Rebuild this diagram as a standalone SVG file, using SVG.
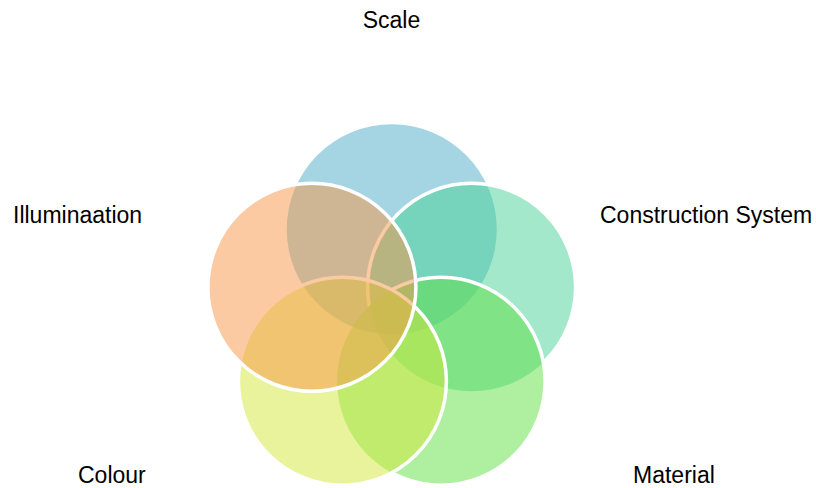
<svg xmlns="http://www.w3.org/2000/svg" width="816" height="488" viewBox="0 0 816 488">
<style>
.f{fill-opacity:0.5}
.s{fill:none;stroke:#fff;stroke-width:3.5}
.lbl{font-family:"Liberation Sans",Arial,sans-serif;font-size:23px;fill:#000}
</style>
<defs>
<mask id="noMat" maskUnits="userSpaceOnUse" x="0" y="0" width="816" height="488"><rect width="816" height="488" fill="#fff"/><circle cx="441.1" cy="381.3" r="104" fill="#000"/></mask>
<mask id="noCol" maskUnits="userSpaceOnUse" x="0" y="0" width="816" height="488"><rect width="816" height="488" fill="#fff"/><circle cx="342.4" cy="381.3" r="104" fill="#000"/></mask>
</defs>
<rect width="816" height="488" fill="#fff"/>
<g id="connectors"></g>
<g id="scale"><circle class="f" cx="391.75" cy="229.3" r="105" fill="#4BACC6"/><text class="lbl" x="391.5" y="28" text-anchor="middle">Scale</text></g>
<g id="construction-system"><circle class="f" cx="471.6" cy="287.3" r="104" fill="#47D195"/><circle class="s" cx="471.6" cy="287.3" r="104" mask="url(#noMat)"/><text class="lbl" x="600" y="223">Construction System</text></g>
<g id="material"><circle class="f" cx="441.1" cy="381.3" r="104" fill="#5DDF41"/><circle class="s" cx="441.1" cy="381.3" r="104" mask="url(#noCol)"/><text class="lbl" x="633" y="483">Material</text></g>
<g id="colour"><circle class="f" cx="342.4" cy="381.3" r="104" fill="#D1E739"/><circle class="s" cx="342.4" cy="381.3" r="104"/><text class="lbl" x="78" y="483">Colour</text></g>
<g id="illuminaation"><circle class="f" cx="311.9" cy="287.3" r="104" fill="#F79646"/><circle class="s" cx="311.9" cy="287.3" r="104"/><text class="lbl" x="13" y="223">Illuminaation</text></g>
</svg>
